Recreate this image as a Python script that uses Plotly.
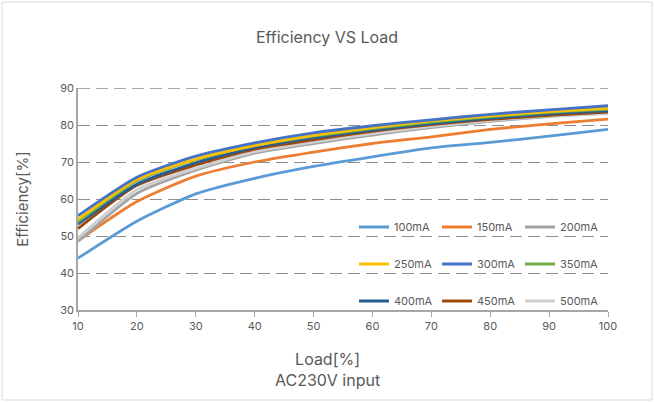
import plotly.graph_objects as go

load = [10, 20, 30, 40, 50, 60, 70, 80, 90, 100]
names = ["100mA", "150mA", "200mA", "250mA", "300mA", "350mA", "400mA", "450mA", "500mA"]
eff_100 = [44.0, 54.0, 61.4, 65.6, 68.8, 71.4, 73.8, 75.3, 77.0, 78.8]
eff_150 = [48.7, 59.3, 66.2, 70.0, 72.7, 75.0, 76.8, 78.8, 80.3, 81.6]
eff_200 = [48.5, 61.5, 67.8, 72.4, 75.0, 77.3, 79.3, 81.0, 82.3, 83.2]
eff_250 = [54.5, 65.3, 70.8, 74.4, 77.2, 79.3, 81.1, 82.5, 83.6, 84.6]
eff_300 = [55.5, 65.9, 71.6, 75.2, 77.9, 79.8, 81.4, 82.9, 84.1, 85.2]
eff_350 = [53.8, 64.9, 70.6, 74.5, 77.0, 79.0, 80.8, 82.2, 83.4, 84.2]
eff_400 = [53.2, 64.0, 69.8, 73.9, 76.5, 78.6, 80.4, 81.8, 83.0, 83.8]
eff_450 = [52.0, 63.7, 69.2, 73.5, 76.0, 78.3, 80.1, 81.5, 82.6, 83.5]
eff_500 = [49.5, 62.5, 68.3, 72.8, 75.4, 77.7, 79.6, 81.2, 82.4, 83.1]
series = [eff_100, eff_150, eff_200, eff_250, eff_300, eff_350, eff_400, eff_450, eff_500]
colors = ["#5B9BD5", "#ED7D31", "#A5A5A5", "#FFC000", "#4472C4", "#70AD47", "#255E91", "#9E480E", "#CFCFCF"]
legend_ids = ["legend", "legend", "legend", "legend2", "legend2", "legend2", "legend3", "legend3", "legend3"]
y_ticks = [30, 40, 50, 60, 70, 80, 90]

FONT = "Inter"
GRAY = "#595959"

fig = go.Figure()
order = [0, 1, 2, 8, 7, 6, 5, 3, 4]
for i in order:
    fig.add_trace(go.Scatter(
        x=load, y=series[i], name=names[i], mode="lines",
        line=dict(color=colors[i], width=2.8, shape="spline", smoothing=0.6),
        legend=legend_ids[i], legendrank=i,
    ))

L, R, T, B = 78, 46, 88, 93
W, H = 654, 403
pw, ph = W - L - R, H - T - B

def px_x(p):
    return (p - L) / pw

def px_y(p):
    return (H - B - p) / ph

leg_common = dict(orientation="h", xanchor="left", yanchor="middle",
                  entrywidth=38, entrywidthmode="pixels", bgcolor="rgba(0,0,0,0)",
                  font=dict(family=FONT, size=11, color=GRAY), itemclick=False,
                  traceorder="normal")

fig.update_layout(
    width=W, height=H,
    margin=dict(l=L, r=R, t=T, b=B),
    paper_bgcolor="white", plot_bgcolor="white",
    font=dict(family=FONT, color=GRAY),
    title=dict(text="Efficiency VS Load", x=0.5, xanchor="center", xref="container",
               y=1 - 37 / H, yanchor="middle", yref="container",
               font=dict(family=FONT, size=16, color=GRAY)),
    legend=dict(x=px_x(354), y=px_y(227), **leg_common),
    legend2=dict(x=px_x(354), y=px_y(264), **leg_common),
    legend3=dict(x=px_x(354), y=px_y(301), **leg_common),
    xaxis=dict(range=[10, 100], tickvals=load, ticks="outside", ticklen=5,
               tickcolor="#A6A6A6", showline=True, linecolor="#A6A6A6", linewidth=1.5,
               showgrid=False, zeroline=False,
               tickfont=dict(family=FONT, size=11, color=GRAY)),
    yaxis=dict(range=[30, 90], tickvals=y_ticks,
               showline=True, linecolor="#A6A6A6", linewidth=1.5,
               showgrid=True, gridcolor="#8C8C8C", griddash="12px,6px", gridwidth=1.4,
               zeroline=False, ticks="",
               tickfont=dict(family=FONT, size=11, color=GRAY),
               title=dict(text="Efficiency[%]", standoff=28,
                          font=dict(family=FONT, size=15, color=GRAY))),
    showlegend=True,
)

# top gridline (plotly hides the grid line at the range edge)
fig.add_shape(type="line", xref="paper", yref="y", x0=0, x1=1, y0=y_ticks[-1], y1=y_ticks[-1],
              line=dict(color="#8C8C8C", width=1.4, dash="12px,6px"), layer="below")

fig.add_annotation(text="Load[%]<br>AC230V input", xref="paper", yref="paper",
                   x=(327 - L) / pw,
                   y=px_y(369), xanchor="center", yanchor="middle", showarrow=False,
                   font=dict(family=FONT, size=16, color=GRAY))

fig.add_shape(type="rect", xref="paper", yref="paper",
              x0=px_x(2), x1=px_x(652), y0=px_y(400), y1=px_y(2),
              line=dict(color="#D9D9D9", width=1), layer="below")

fig.write_html("out.html", config={"displayModeBar": False},
               post_script="document.body.style.margin='0';")
